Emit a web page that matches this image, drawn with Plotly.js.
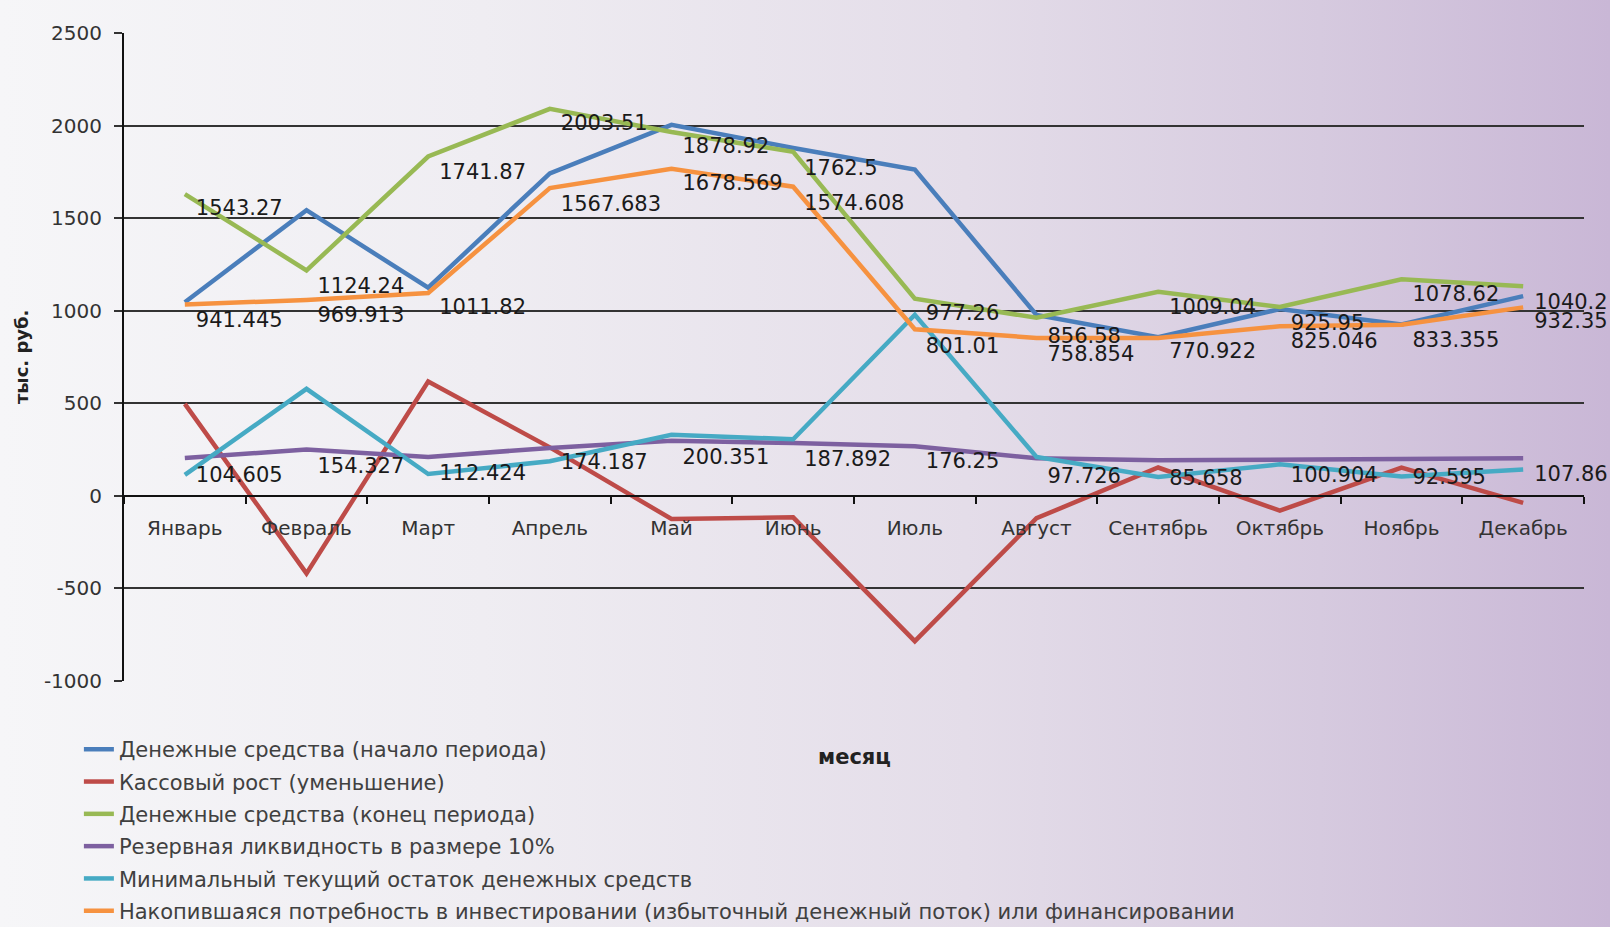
<!DOCTYPE html>
<html>
<head>
<meta charset="utf-8">
<script src="https://cdn.plot.ly/plotly-3.0.1.min.js"></script>
<style>
  html, body { margin: 0; padding: 0; }
  body {
    width: 1610px; height: 927px; overflow: hidden;
    background: linear-gradient(to right, #f6f6f8 0%, #efedf2 30%, #e4dde9 60%, #d6cadf 82%, #c9b7d6 100%);
  }
  #chart { width: 1610px; height: 927px; }
</style>
</head>
<body>
<div id="chart"></div>
<script>
// ---- data ----
const months = ['Январь','Февраль','Март','Апрель','Май','Июнь','Июль','Август','Сентябрь','Октябрь','Ноябрь','Декабрь'];

const startCash   = [1046, 1543, 1124, 1742, 2004, 1879, 1763, 977, 857, 1009, 926, 1079];
const cashGrowth  = [497, -419, 618, 262, -125, -116, -785, -121, 153, -80, 153, -38];
const endCash     = [1630, 1218, 1833, 2090, 1965, 1858, 1065, 962, 1102, 1020, 1170, 1132];
const reserve     = [204, 250, 210, 259, 297, 286, 268, 203, 192, 198, 199, 203];
const minBalance  = [113, 578, 118, 187, 330, 306, 978, 210, 102, 170, 104, 143];
const accumNeed   = [1034, 1058, 1096, 1662, 1766, 1670, 900, 853, 853, 916, 924, 1018];

const endCashLabels   = [1543.27, 1124.24, 1741.87, 2003.51, 1878.92, 1762.5, 977.26, 856.58, 1009.04, 925.95, 1078.62, 1040.2];
const accumNeedLabels = [941.445, 969.913, 1011.82, 1567.683, 1678.569, 1574.608, 801.01, 758.854, 770.922, 825.046, 833.355, 932.35];
const reserveLabels   = [104.605, 154.327, 112.424, 174.187, 200.351, 187.892, 176.25, 97.726, 85.658, 100.904, 92.595, 107.86];

const seriesNames = [
  'Денежные средства (начало периода)',
  'Кассовый рост (уменьшение)',
  'Денежные средства (конец периода)',
  'Резервная ликвидность в размере 10%',
  'Минимальный текущий остаток денежных средств',
  'Накопившаяся потребность в инвестировании (избыточный денежный поток) или финансировании'
];
const yTickVals   = [-1000, -500, 0, 500, 1000, 1500, 2000, 2500];
const yTickLabels = ['-1000', '-500', '0', '500', '1000', '1500', '2000', '2500'];
const yTitle = 'тыс. руб.';
const xTitle = 'месяц';

// ---- styles ----
const colors = ['#4A7EBB', '#BE4B48', '#98B954', '#7D60A0', '#46AAC4', '#F69240'];
const seriesValues = [startCash, cashGrowth, endCash, reserve, minBalance, accumNeed];
const FONT = 'DejaVu Sans, Verdana, sans-serif';

const traces = seriesValues.map((vals, i) => ({
  type: 'scatter', mode: 'lines',
  x: months, y: vals, name: seriesNames[i],
  legendgroup: 'g' + i,
  line: { color: colors[i], width: 4.5 },
  hoverinfo: 'skip'
}));

function labelTrace(vals) {
  return {
    type: 'scatter', mode: 'markers+text',
    x: months, y: vals,
    text: vals.map(v => String(v)),
    textposition: 'middle right',
    marker: { size: 16, color: 'rgba(0,0,0,0)' },
    textfont: { family: FONT, size: 21, color: '#1a1a1a' },
    cliponaxis: false, showlegend: false, hoverinfo: 'skip'
  };
}
traces.push(labelTrace(endCashLabels));
traces.push(labelTrace(accumNeedLabels));
traces.push(labelTrace(reserveLabels));

const layout = {
  width: 1610, height: 927,
  margin: { l: 124, r: 26, t: 33, b: 246, autoexpand: false },
  paper_bgcolor: 'rgba(0,0,0,0)',
  plot_bgcolor: 'rgba(0,0,0,0)',
  font: { family: FONT, color: '#333' },
  showlegend: true,
  legend: {
    xref: 'container', yref: 'container',
    x: 0.049, y: 0.2135, xanchor: 'left', yanchor: 'top',
    orientation: 'v', traceorder: 'grouped', tracegroupgap: 2,
    bgcolor: 'rgba(0,0,0,0)',
    font: { family: FONT, size: 21, color: '#404040' },
    itemwidth: 30
  },
  xaxis: {
    type: 'category', range: [-0.5, 11.5],
    anchor: 'free', position: 1000 / 3500,
    showline: true, linecolor: '#111', linewidth: 2,
    ticks: 'outside', tickson: 'boundaries', ticklen: 7, tickcolor: '#111', tickwidth: 2,
    showgrid: false, zeroline: false,
    tickfont: { family: FONT, size: 20, color: '#333' },
    tickangle: 0,
    ticklabelstandoff: 14,
    fixedrange: true
  },
  yaxis: {
    range: [-1000, 2500],
    tickvals: yTickVals, ticktext: yTickLabels,
    showline: true, linecolor: '#111', linewidth: 2,
    showgrid: true, gridcolor: '#333', gridwidth: 2,
    zeroline: false,
    ticks: 'outside', ticklen: 8, tickcolor: '#333', tickwidth: 2,
    tickfont: { family: FONT, size: 20, color: '#333' },
    ticklabelstandoff: 8,
    fixedrange: true
  },
  annotations: [
    {
      xref: 'paper', yref: 'paper', x: 0.5, y: -0.139,
      text: xTitle, showarrow: false,
      font: { family: FONT, size: 21, color: '#222', weight: 'bold' }
    },
    {
      xref: 'paper', yref: 'paper', x: -0.0705, y: 0.5,
      xanchor: 'center', yanchor: 'middle', textangle: -90,
      text: yTitle, showarrow: false,
      font: { family: FONT, size: 18, color: '#222', weight: 'bold' }
    }
  ]
};

Plotly.newPlot('chart', traces, layout, { displayModeBar: false, staticPlot: true });
</script>
</body>
</html>
